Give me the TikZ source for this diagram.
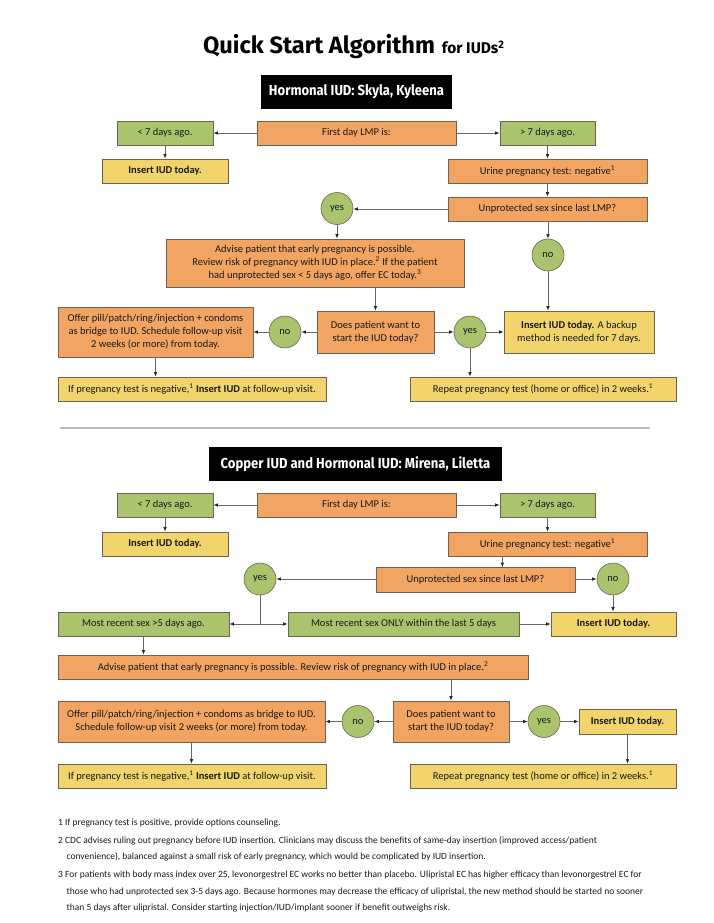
\documentclass[tikz,border=0pt]{standalone}
\usepackage{fontspec}
\setmainfont{Carlito}
\newfontfamily\titlef{Fira Sans}
\newfontfamily\headf[FakeStretch=0.9]{Fira Sans}
\usetikzlibrary{arrows.meta}
\definecolor{orng}{HTML}{F2A463}
\definecolor{grn}{HTML}{A9C46C}
\definecolor{ylw}{HTML}{F1D46C}
\definecolor{bord}{HTML}{6E6257}
\definecolor{linec}{HTML}{666666}
\tikzset{
  box/.style={draw=bord, line width=0.6pt, inner sep=1pt, align=center,
    font=\fontsize{10.5}{13}\selectfont, text=black!90},
  ob/.style={box, fill=orng},
  gb/.style={box, fill=grn},
  yb/.style={box, fill=ylw},
  circ/.style={circle, draw=bord, line width=0.6pt, fill=grn, minimum size=32pt, inner sep=0pt,
    font=\fontsize{10.5}{12}\selectfont, text=black!90},
  hdr/.style={fill=black, text=white, inner sep=0pt, font=\headf\bfseries\fontsize{14.5}{16}\selectfont},
  arr/.style={draw=linec, line width=0.8pt, -{Latex[length=4.5pt,width=3.6pt,color=black!85]}},
  ln/.style={draw=linec, line width=0.8pt},
  fnote/.style={anchor=base west, inner sep=0pt, font=\fontsize{9.5}{11}\selectfont, text=black!90},
  wh/.style 2 args={minimum width=#1pt, minimum height=#2pt}
}
\begin{document}
\begin{tikzpicture}[x=1pt,y=-1pt]
\useasboundingbox[fill=white] (0,0) rectangle (713,923);
% Title
\node[anchor=base west, inner sep=0pt, font=\titlef\bfseries\fontsize{23.6}{27}\selectfont] (title) at (203,53.3) {Quick Start Algorithm};
\node[anchor=base west, inner sep=0pt, font=\titlef\bfseries\fontsize{15.5}{18}\selectfont] (titleb) at (441.7,53.3) {for IUDs\textsuperscript{2}};
% ---------- Section 1 ----------
\node[hdr, wh={191}{34}] (h1) at (356.5,92) {Hormonal IUD: Skyla, Kyleena};
\node[gb, wh={96}{24}] (lt7a) at (165,133) {< 7 days ago.};
\node[ob, wh={199}{24}] (lmpa) at (356.5,133) {First day LMP is:};
\node[gb, wh={95}{24}] (gt7a) at (547.5,133) {> 7 days ago.};
\node[yb, wh={126}{24}] (ins1a) at (165,171) {\textbf{Insert IUD today.}};
\node[ob, wh={199}{24}] (urinea) at (547.5,171) {Urine pregnancy test: negative\textsuperscript{1}};
\node[ob, wh={199}{24}] (unpa) at (547.5,209) {Unprotected sex since last LMP?};
\node[circ] (yesa) at (337,208.5) {yes};
\node[circ] (noa) at (548,255) {no};
\node[ob, wh={298}{48}] (adva) at (315,263) {Advise patient that early pregnancy is possible.\\Review risk of pregnancy with IUD in place.\textsuperscript{2} If the patient\\had unprotected sex < 5 days ago, offer EC today.\textsuperscript{3}};
\node[ob, wh={195}{50}] (offera) at (155.5,332) {Offer pill/patch/ring/injection + condoms\\as bridge to IUD. Schedule follow-up visit\\2 weeks (or more) from today.};
\node[circ] (no2a) at (285,332) {no};
\node[ob, wh={117}{42}] (doesa) at (375.5,332) {Does patient want to\\start the IUD today?};
\node[circ] (yes2a) at (470,332) {yes};
\node[yb, wh={150}{42}] (backa) at (579,332) {\textbf{Insert IUD today.} A backup\\method is needed for 7 days.};
\node[yb, wh={268}{24}] (ifa) at (192,389) {If pregnancy test is negative,\textsuperscript{1} \textbf{Insert IUD} at follow-up visit.};
\node[yb, wh={266}{24}] (repa) at (543,389) {Repeat pregnancy test (home or office) in 2 weeks.\textsuperscript{1}};
% connectors section 1
\draw[arr] (lmpa.west) -- (lt7a.east);
\draw[arr] (lmpa.east) -- (gt7a.west);
\draw[arr] (lt7a.south) -- (ins1a.north);
\draw[arr] (gt7a.south) -- (urinea.north);
\draw[arr] (urinea.south) -- (unpa.north);
\draw[arr] (unpa.west) -- (unpa.west -| yesa.east);
\draw[arr] (yesa.south) -- (yesa.south |- adva.north);
\draw[arr] (noa.north |- unpa.south) -- (noa.north);
\draw[arr] (noa.south) -- (noa.south |- backa.north);
\draw[arr] (doesa.north |- adva.south) -- (doesa.north);
\draw[arr] (doesa.west) -- (no2a.east);
\draw[arr] (no2a.west) -- (offera.east);
\draw[arr] (doesa.east) -- (yes2a.west);
\draw[arr] (yes2a.east) -- (backa.west);
\draw[arr] (yes2a.south) -- (yes2a.south |- repa.north);
\draw[arr] (offera.south) -- (offera.south |- ifa.north);
% divider
\coordinate (dl) at (59.5,428);
\coordinate (dr) at (650,428);
\draw[line width=1.2pt, black!25] (dl) -- (dr);
% ---------- Section 2 ----------
\node[hdr, wh={293}{34}] (h2) at (355.5,464) {Copper IUD and Hormonal IUD: Mirena, Liletta};
\node[gb, wh={96}{24}] (lt7b) at (165,505) {< 7 days ago.};
\node[ob, wh={199}{24}] (lmpb) at (356.5,505) {First day LMP is:};
\node[gb, wh={95}{24}] (gt7b) at (547.5,505) {> 7 days ago.};
\node[yb, wh={126}{24}] (ins1b) at (165,544) {\textbf{Insert IUD today.}};
\node[ob, wh={199}{24}] (urineb) at (547.5,544) {Urine pregnancy test: negative\textsuperscript{1}};
\node[ob, wh={199}{25}] (unpb) at (475.5,580) {Unprotected sex since last LMP?};
\node[circ] (yesb) at (260,579) {yes};
\node[circ] (nob) at (613,579) {no};
\node[gb, wh={171}{24}] (mr5) at (143.5,624) {Most recent sex >5 days ago.};
\node[gb, wh={231}{24}] (only5) at (403.5,624) {Most recent sex ONLY within the last 5 days};
\node[yb, wh={125}{24}] (ins2b) at (613.5,624) {\textbf{Insert IUD today.}};
\node[ob, wh={470}{24}] (advb) at (293,667) {Advise patient that early pregnancy is possible. Review risk of pregnancy with IUD in place.\textsuperscript{2}};
\node[ob, wh={267}{41}] (offerb) at (191.5,721.5) {Offer pill/patch/ring/injection + condoms as bridge to IUD.\\Schedule follow-up visit 2 weeks (or more) from today.};
\node[circ] (no2b) at (358,721.5) {no};
\node[ob, wh={116}{41}] (doesb) at (451,721.5) {Does patient want to\\start the IUD today?};
\node[circ] (yes2b) at (544,721.5) {yes};
\node[yb, wh={97}{25}] (ins3b) at (627.5,721.5) {\textbf{Insert IUD today.}};
\node[yb, wh={268}{24}] (ifb) at (192,776) {If pregnancy test is negative,\textsuperscript{1} \textbf{Insert IUD} at follow-up visit.};
\node[yb, wh={266}{24}] (repb) at (543,776) {Repeat pregnancy test (home or office) in 2 weeks.\textsuperscript{1}};
% connectors section 2
\draw[arr] (lmpb.west) -- (lt7b.east);
\draw[arr] (lmpb.east) -- (gt7b.west);
\draw[arr] (lt7b.south) -- (ins1b.north);
\draw[arr] (gt7b.south) -- (urineb.north);
\draw[arr] ([xshift=54.7pt]urineb.south west) -- ([xshift=54.7pt]urineb.south west |- unpb.north);
\draw[arr] (unpb.west |- yesb.east) -- (yesb.east);
\draw[arr] (unpb.east |- nob.west) -- (nob.west);
\draw[arr] (nob.south) -- (nob.south |- ins2b.north);
\coordinate (jb) at (yesb.south |- mr5.east);
\draw[ln] (yesb.south) -- (jb);
\draw[arr] (jb) -- (mr5.east);
\draw[arr] (jb) -- (only5.west);
\draw[arr] (only5.east) -- (ins2b.west);
\draw[arr] (mr5.south) -- (mr5.south |- advb.north);
\draw[arr] (doesb.north |- advb.south) -- (doesb.north);
\draw[arr] (doesb.west) -- (no2b.east);
\draw[arr] (no2b.west) -- (offerb.east);
\draw[arr] (doesb.east) -- (yes2b.west);
\draw[arr] (yes2b.east) -- (ins3b.west);
\draw[arr] (ins3b.south) -- (ins3b.south |- repb.north);
\draw[arr] (offerb.south) -- (offerb.south |- ifb.north);
% footnotes
\node[fnote] (fn1) at (58,825) {1 If pregnancy test is positive, provide options counseling.};
\node[fnote] (fn2) at (58,843) {2 CDC advises ruling out pregnancy before IUD insertion. Clinicians may discuss the benefits of same-day insertion (improved access/patient};
\node[fnote] (fn2b) at (66.5,859) {convenience), balanced against a small risk of early pregnancy, which would be complicated by IUD insertion.};
\node[fnote] (fn3) at (58,877) {3 For patients with body mass index over 25, levonorgestrel EC works no better than placebo. Ulipristal EC has higher efficacy than levonorgestrel EC for};
\node[fnote] (fn3b) at (66.5,894) {those who had unprotected sex 3-5 days ago. Because hormones may decrease the efficacy of ulipristal, the new method should be started no sooner};
\node[fnote] (fn3c) at (66.5,910) {than 5 days after ulipristal. Consider starting injection/IUD/implant sooner if benefit outweighs risk.};
\end{tikzpicture}
\end{document}
